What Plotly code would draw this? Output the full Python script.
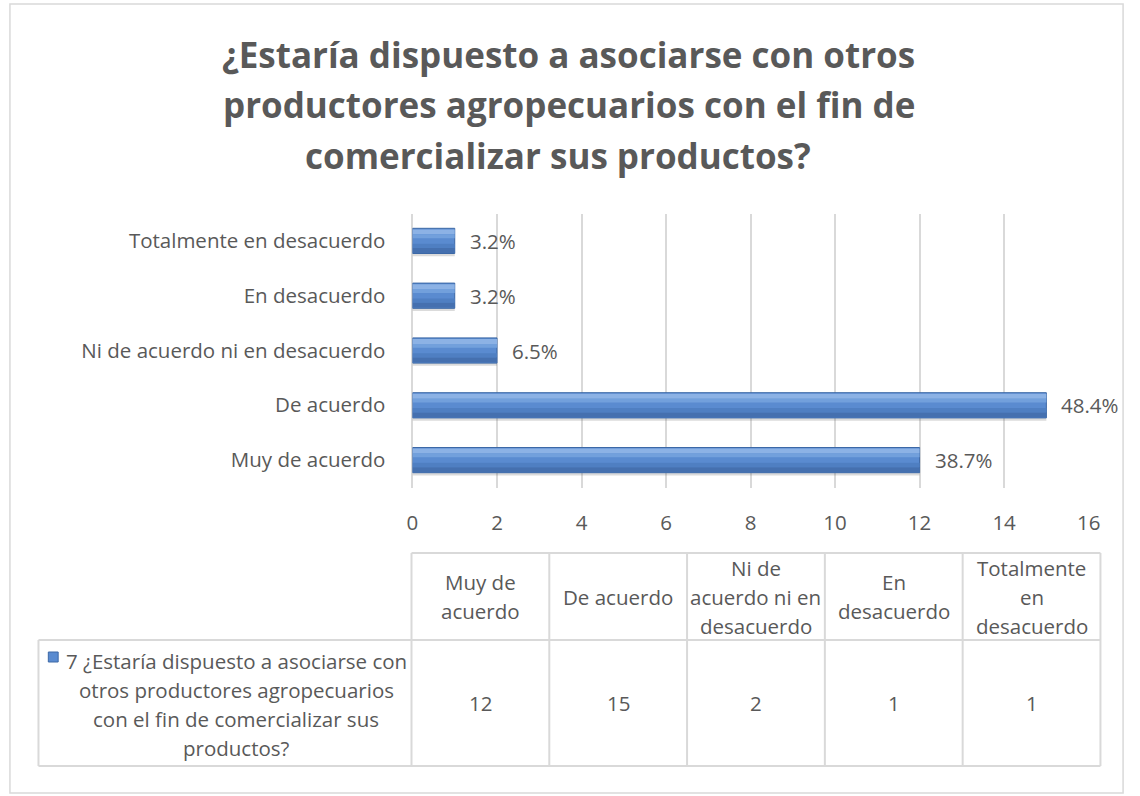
import plotly.graph_objects as go

# Survey answers (bottom to top on the chart)
categories = [
    "Muy de acuerdo",
    "De acuerdo",
    "Ni de acuerdo ni en desacuerdo",
    "En desacuerdo",
    "Totalmente en desacuerdo",
]
counts = [12, 15, 2, 1, 1]

# Wrapped column headings for the data table under the chart
table_headers = [
    "Muy de<br>acuerdo",
    "De acuerdo",
    "Ni de<br>acuerdo ni en<br>desacuerdo",
    "En<br>desacuerdo",
    "Totalmente<br>en<br>desacuerdo",
]
series_name = "7 ¿Estaría dispuesto a asociarse con<br>otros productores agropecuarios<br>con el fin de comercializar sus<br>productos?"
title_lines = [
    "¿Estaría dispuesto a asociarse con otros",
    "productores agropecuarios con el fin de",
    "comercializar sus productos?",
]
x_ticks = [0, 2, 4, 6, 8, 10, 12, 14, 16]

W, H = 1140, 796
FONT = "Open Sans"
FS = 20.5
GREY = "#595959"
LINE = "#d9d9d9"

total = sum(counts)
pct_labels = [f"{c / total * 100:.1f}%" for c in counts]


def px(x):
    return x / W


def py(y):
    return 1 - y / H


fig = go.Figure()

# soft shadow under each bar
fig.add_trace(go.Bar(
    y=categories, x=counts, orientation="h",
    width=0.47, offset=-0.28,
    marker=dict(color="rgba(90,90,90,0.22)", line=dict(width=0)),
    hoverinfo="skip", showlegend=False,
))
# main bar body
fig.add_trace(go.Bar(
    y=categories, x=counts, orientation="h",
    width=0.46, offset=-0.23,
    marker=dict(color="#5a8bd0", line=dict(color="#3c68a6", width=1)),
    name="7", showlegend=False,
))
# shading bands giving the bar its rounded, bevelled look
bands = [
    (0.12, 0.09, "#8cb2e5"),
    (0.05, 0.07, "#72a0dc"),
    (-0.13, 0.08, "#4f7fc2"),
    (-0.22, 0.09, "#4570af"),
]
for off, wid, col in bands:
    fig.add_trace(go.Bar(
        y=categories, x=counts, orientation="h",
        width=wid, offset=off,
        marker=dict(color=col, line=dict(width=0)),
        hoverinfo="skip", showlegend=False,
    ))

annotations = []

# value labels beside the bars
for cat, val, lab in zip(categories, counts, pct_labels):
    annotations.append(dict(
        x=val, y=cat, xref="x", yref="y", text=lab, showarrow=False,
        xanchor="left", yanchor="middle", xshift=13,
        font=dict(family=FONT, size=FS, color=GREY),
    ))

# chart title, one annotation per line
title_centres = [572, 572, 561]
for i, (line, cx) in enumerate(zip(title_lines, title_centres)):
    annotations.append(dict(
        x=px(cx), y=py(54 + i * 50.5), xref="paper", yref="paper",
        text=f"<b>{line}</b>", showarrow=False,
        xanchor="center", yanchor="middle",
        font=dict(family=FONT, size=35, color=GREY),
    ))

shapes = []

# outer chart border
shapes.append(dict(type="rect", xref="paper", yref="paper",
                   x0=px(4), x1=px(1135), y0=py(793), y1=py(4),
                   line=dict(color=LINE, width=1.5), fillcolor="rgba(0,0,0,0)"))

# data table grid
tbl_left, col_w = 412, 140
tbl_top, hdr_bot, tbl_bot = 553, 640, 766
key_left = 33
tbl_right = tbl_left + col_w * len(categories)
for k in range(len(categories) + 1):
    xx = tbl_left + k * col_w
    shapes.append(dict(type="line", xref="paper", yref="paper",
                       x0=px(xx), x1=px(xx), y0=py(tbl_top), y1=py(tbl_bot),
                       line=dict(color=LINE, width=2)))
shapes.append(dict(type="line", xref="paper", yref="paper",
                   x0=px(key_left), x1=px(key_left), y0=py(hdr_bot), y1=py(tbl_bot),
                   line=dict(color=LINE, width=2)))
shapes.append(dict(type="line", xref="paper", yref="paper",
                   x0=px(tbl_left), x1=px(tbl_right), y0=py(tbl_top), y1=py(tbl_top),
                   line=dict(color=LINE, width=2)))
for yy in (hdr_bot, tbl_bot):
    shapes.append(dict(type="line", xref="paper", yref="paper",
                       x0=px(key_left), x1=px(tbl_right), y0=py(yy), y1=py(yy),
                       line=dict(color=LINE, width=2)))

LINE_H = 29


def multiline(text, cx, cy, size=FS):
    parts = text.split("<br>")
    n = len(parts)
    for j, p in enumerate(parts):
        yy = cy + (j - (n - 1) / 2) * LINE_H
        annotations.append(dict(
            x=px(cx), y=py(yy), xref="paper", yref="paper", text=p,
            showarrow=False, xanchor="center", yanchor="middle",
            font=dict(family=FONT, size=size, color=GREY),
        ))


# header row and value row
for k, (hdr, val) in enumerate(zip(table_headers, counts)):
    cx = tbl_left + (k + 0.5) * col_w
    multiline(hdr, cx, (tbl_top + hdr_bot) / 2)
    multiline(str(val), cx, (hdr_bot + tbl_bot) / 2)

# series name cell with its legend key
multiline(series_name, 234, (hdr_bot + tbl_bot) / 2 + 1)
shapes.append(dict(type="rect", xref="paper", yref="paper",
                   x0=px(43), x1=px(53), y0=py(662), y1=py(652),
                   line=dict(color="#3c68a6", width=1), fillcolor="#5a8bd0"))

fig.update_layout(
    width=W, height=H,
    margin=dict(l=0, r=0, t=0, b=0),
    paper_bgcolor="white", plot_bgcolor="white",
    barmode="overlay",
    showlegend=False,
    font=dict(family=FONT, size=FS, color=GREY),
    xaxis=dict(
        domain=[px(413), px(1100)],
        range=[0, 16], tickvals=x_ticks,
        showgrid=True, gridcolor=LINE, gridwidth=1.5,
        zeroline=True, zerolinecolor=LINE, zerolinewidth=1.5,
        showline=False,
        ticks="outside", ticklen=17, tickcolor="rgba(0,0,0,0)",
        tickfont=dict(family=FONT, size=FS, color=GREY),
        fixedrange=True,
    ),
    yaxis=dict(
        domain=[py(487.5), py(213.5)],
        categoryorder="array", categoryarray=categories,
        showgrid=False, showline=False, zeroline=False,
        ticks="outside", ticklen=22, tickcolor="rgba(0,0,0,0)",
        tickfont=dict(family=FONT, size=FS, color=GREY),
        fixedrange=True,
    ),
    annotations=annotations,
    shapes=shapes,
)

fig.write_html("out.html")
